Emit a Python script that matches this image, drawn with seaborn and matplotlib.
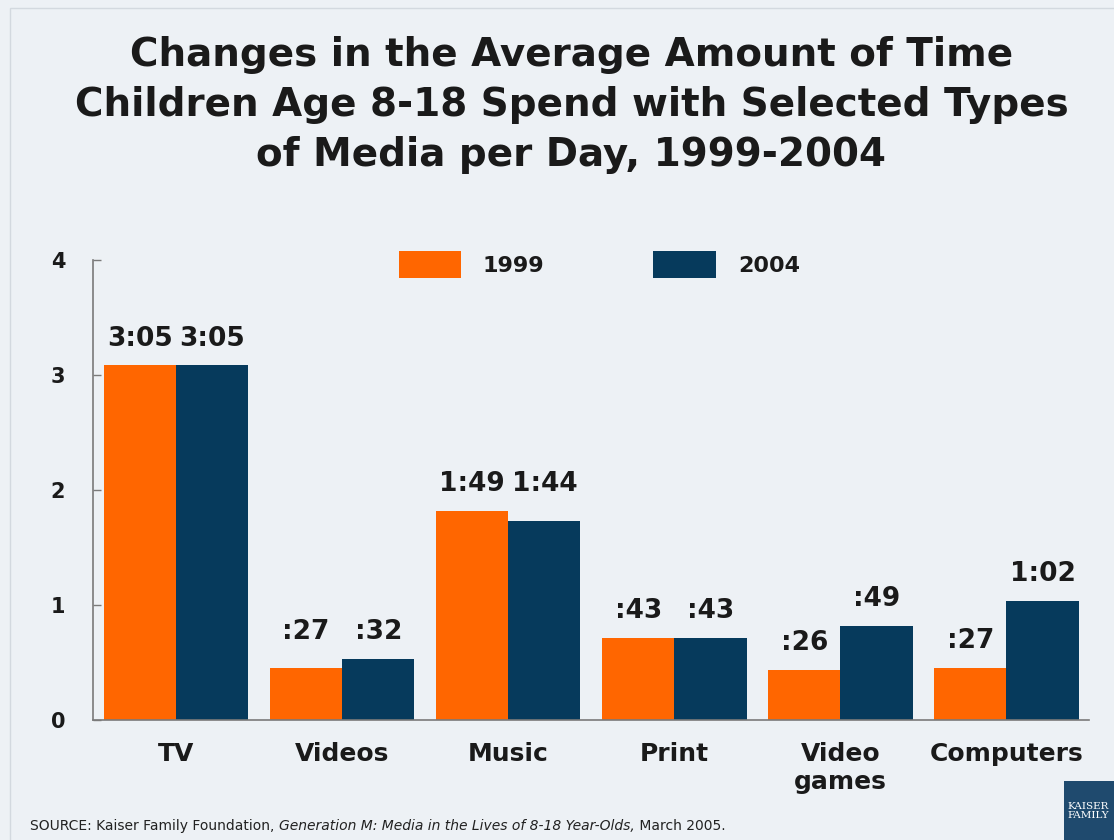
import matplotlib.pyplot as plt
import matplotlib.patches as mpatches
import seaborn as sns
import pandas as pd

# Average daily time per medium, minutes
categories = ["TV", "Videos", "Music", "Print", "Video\ngames", "Computers"]
minutes_1999 = [185, 27, 109, 43, 26, 27]
minutes_2004 = [185, 32, 104, 43, 49, 62]
labels_1999 = ["3:05", ":27", "1:49", ":43", ":26", ":27"]
labels_2004 = ["3:05", ":32", "1:44", ":43", ":49", "1:02"]
years = ["1999", "2004"]

BG = "#EDF1F5"
ORANGE = "#FF6600"
NAVY = "#063A5C"

df = pd.DataFrame({
    "Media": categories * 2,
    "Year": [years[0]] * len(categories) + [years[1]] * len(categories),
    "Hours": [m / 60 for m in minutes_1999 + minutes_2004],
})

sns.set_style("white")
plt.rcParams["font.family"] = ["DejaVu Sans"]

fig = plt.figure(figsize=(11.14, 8.4), dpi=100, facecolor=BG)
ax = fig.add_axes([0.0835, 0.1429, 0.8945, 0.5476])
ax.set_facecolor(BG)

sns.barplot(data=df, x="Media", y="Hours", hue="Year",
            palette=[ORANGE, NAVY], width=0.87, saturation=1,
            edgecolor="none", ax=ax)

anns = []
for cont, labs in zip(ax.containers, [labels_1999, labels_2004]):
    anns.append(ax.bar_label(cont, labels=labs, padding=10, fontsize=19,
                             fontweight="bold", color="#1a1a1a"))

# in the original, labels of the Videos and Music pairs sit at one height
for i in [1, 2]:
    top = max(minutes_1999[i], minutes_2004[i]) / 60
    for grp in anns:
        x, _ = grp[i].xy
        grp[i].xy = (x, top)

ax.set_xlim(-0.5, 5.5)
ax.set_ylim(0, 4)
ax.set_yticks([0, 1, 2, 3, 4])
ax.set_xlabel("")
ax.set_ylabel("")
sns.despine(ax=ax)
for s in ["left", "bottom"]:
    ax.spines[s].set_color("#7a7a7a")
    ax.spines[s].set_linewidth(1.2)
ax.tick_params(axis="y", which="both", left=True, direction="in", length=6,
               width=1, color="#7a7a7a", labelsize=15, pad=20)
ax.tick_params(axis="x", length=0, labelsize=18, pad=16)
for t in ax.get_yticklabels() + ax.get_xticklabels():
    t.set_fontweight("bold")
    t.set_color("#1a1a1a")

leg = ax.legend(loc="center", bbox_to_anchor=(0.508, 0.99), ncol=2,
                frameon=False, fontsize=16, handlelength=2.8, handleheight=1.5,
                columnspacing=4.9, handletextpad=1.0)
for t in leg.get_texts():
    t.set_fontweight("bold")
    t.set_color("#1a1a1a")

fig.text(0.513, 0.875,
         "Changes in the Average Amount of Time\n"
         "Children Age 8-18 Spend with Selected Types\n"
         "of Media per Day, 1999-2004",
         ha="center", va="center", fontsize=28, fontweight="bold",
         color="#1a1a1a", linespacing=1.4)

# source line with italic title
ys = 0.008
src = fig.text(0.027, ys, "SOURCE: Kaiser Family Foundation, ",
               fontsize=10, color="#222222", va="bottom")
fig.canvas.draw()
bb = src.get_window_extent()
it = fig.text(bb.x1 / fig.bbox.width, ys,
              "Generation M: Media in the Lives of 8-18 Year-Olds,",
              fontsize=10, style="italic", color="#222222", va="bottom")
fig.canvas.draw()
bb = it.get_window_extent()
fig.text(bb.x1 / fig.bbox.width, ys, " March 2005.", fontsize=10,
         color="#222222", va="bottom")

# slide frame and logo
fig.patches.append(mpatches.Rectangle((0.009, -0.01), 1.0, 1.0, transform=fig.transFigure,
                                      fill=False, edgecolor="#d3d9df", linewidth=1))
fig.patches.append(mpatches.Rectangle((0.955, 0.0), 0.05, 0.07, transform=fig.transFigure,
                                      facecolor="#1f4a6e", edgecolor="none"))
fig.text(0.958, 0.035, "KAISER\nFAMILY", fontsize=7.5, color="white",
         family="DejaVu Serif", va="center", ha="left", linespacing=1.0)

fig.savefig("out.png", dpi=100, facecolor=BG)
